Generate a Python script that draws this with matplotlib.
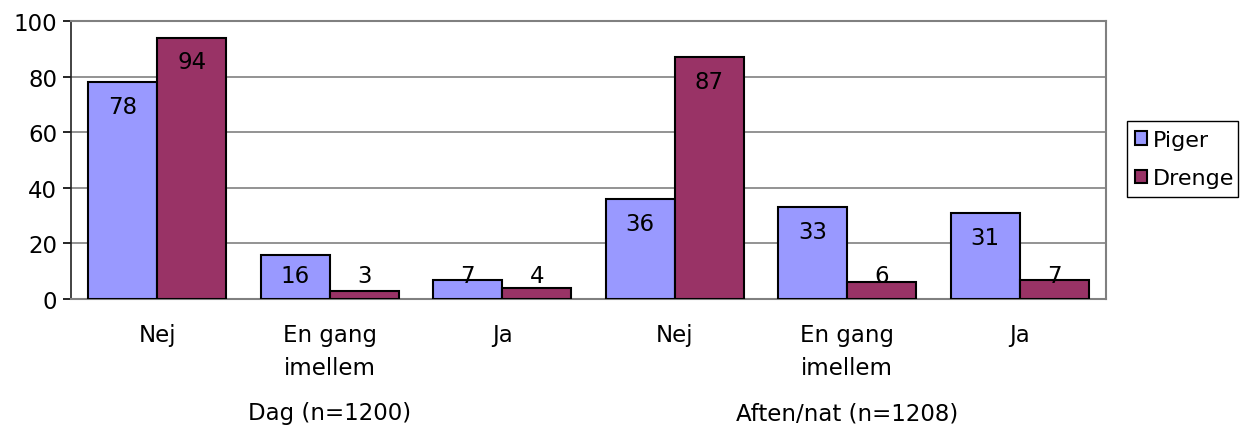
import numpy as np
import matplotlib.pyplot as plt
from matplotlib.patches import Rectangle

plt.rcParams['font.family'] = 'DejaVu Sans'

categories = ['Nej', 'En gang\nimellem', 'Ja', 'Nej', 'En gang\nimellem', 'Ja']
groups = ['Dag (n=1200)', 'Aften/nat (n=1208)']
piger = [78, 16, 7, 36, 33, 31]
drenge = [94, 3, 4, 87, 6, 7]

fs = 16.5
W, H = 1241, 427

fig = plt.figure(figsize=(W / 100, H / 100), dpi=100)
ax = fig.add_axes([71 / W, 1 - 300 / H, 1035 / W, 278 / H])

x = np.arange(len(categories))
w = 0.4
ax.bar(x - w / 2, piger, w, color='#9999FF', edgecolor='black', linewidth=1.5, label='Piger', zorder=3)
ax.bar(x + w / 2, drenge, w, color='#993366', edgecolor='black', linewidth=1.5, label='Drenge', zorder=3)

# value labels just under the bar top, kept above the baseline for short bars
for xs, vals in [(x - w / 2, piger), (x + w / 2, drenge)]:
    for xi, v in zip(xs, vals):
        ax.text(xi, max(v - 8.7, 8.6), str(v), ha='center', va='center', fontsize=fs, zorder=4)

ax.set_xlim(-0.5, len(categories) - 0.5)
ax.set_ylim(0, 100)
ax.set_yticks(range(0, 101, 20))
ax.yaxis.grid(True, color='#808080', linewidth=1.2, zorder=0)
ax.set_xticks(x)
ax.set_xticklabels(categories, fontsize=fs, linespacing=1.55)
ax.tick_params(axis='x', length=0, pad=17)
ax.tick_params(axis='y', labelsize=fs, length=6, width=1.2, direction='out', pad=4)

for s in ['top', 'right', 'bottom']:
    ax.spines[s].set_color('#808080')
    ax.spines[s].set_linewidth(1.5)
ax.spines['left'].set_color('#222222')
ax.spines['left'].set_linewidth(1.2)

for gi, g in enumerate(groups):
    ax.text(gi * 3 + 1, -41, g, ha='center', va='center', fontsize=fs, clip_on=False)

# legend entries without frame, box drawn separately
leg = ax.legend(loc='upper left', bbox_to_anchor=(1135 / W, 1 - 131 / H), bbox_transform=fig.transFigure,
                fontsize=16, frameon=False, handlelength=0.55, handleheight=0.55,
                handletextpad=0.25, borderpad=0, labelspacing=0.82, borderaxespad=0)
fig.patches.append(Rectangle((1127 / W, 1 - 198 / H), 111 / W, 76 / H, transform=fig.transFigure,
                             fill=False, edgecolor='black', linewidth=1))

fig.savefig('out.png', dpi=100)
